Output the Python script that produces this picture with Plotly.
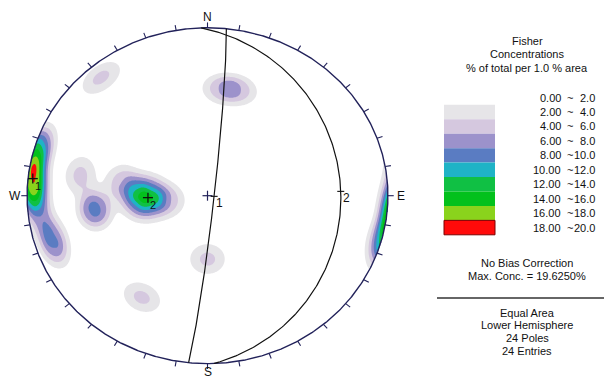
import numpy as np
import plotly.graph_objects as go

# ---------------- data ----------------
pole_trend = [273, 275, 277, 284, 288, 270, 263,
              274, 275, 263, 261, 263, 280,
              7, 15, 320,
              280, 262, 263,
              250, 254, 105,
              180, 211]
pole_plunge = [3, 4, 3, 3, 4, 5, 7,
               58, 64, 58, 64, 72, 50,
               36, 35, 9,
               29, 36, 38,
               10, 12, 1,
               59, 30]

plane_dipdir = [96, 88]
plane_dip = [87, 27]
plane_labels = ["1", "2"]

set_pole_trend = [276, 268]
set_pole_plunge = [3, 63]
set_labels = ["1", "2"]

legend_low = ["0.00", "2.00", "4.00", "6.00", "8.00", "10.00", "12.00", "14.00", "16.00", "18.00"]
legend_high = ["2.0", "4.0", "6.0", "8.0", "10.0", "12.0", "14.0", "16.0", "18.0", "20.0"]
band_colors = ["#ffffff", "#e6e5e8", "#d5c8df", "#9c92cb", "#5a7cc2",
               "#1fb3c6", "#10c044", "#03c11c", "#8ad31c", "#ff0a0a"]
contour_start, contour_end, contour_step = 2, 18, 2

info_top = ["Fisher", "Concentrations", "% of total per 1.0 % area"]
info_mid = ["No Bias Correction", "Max. Conc. = 19.6250%"]
info_bot = ["Equal Area", "Lower Hemisphere", "24 Poles", "24 Entries"]

FLAT_DEG = 2.0
SIGMA_DEG = 4.5
N = len(pole_trend)

# ---------------- geometry ----------------
W, H = 604, 376
ML, MR, MT, MB = 9, 198, 11, 4
XR = [-1.1, 1.1]
YR = [-1.05, 1.1]
PW = W - ML - MR
PH = H - MT - MB
SX = PW / (XR[1] - XR[0])
SY = PH / (YR[1] - YR[0])


def px(x):
    return (x - ML) / PW


def py(y):
    return (H - MB - y) / PH


def vec(tr, pl):
    tr = np.radians(np.asarray(tr, float))
    pl = np.radians(np.asarray(pl, float))
    return np.stack([np.cos(pl) * np.sin(tr), np.cos(pl) * np.cos(tr), np.sin(pl)], -1)


def project(v):
    v = np.atleast_2d(v)
    v = v * np.where(v[:, 2:3] < 0, -1, 1)
    pl = np.arcsin(np.clip(v[:, 2], -1, 1))
    tr = np.arctan2(v[:, 0], v[:, 1])
    r = np.sqrt(2) * np.sin((np.pi / 2 - pl) / 2)
    return r * np.sin(tr), r * np.cos(tr)


def great_circle(dd, dip, n=241):
    s = np.radians(dd - 90)
    d = np.radians(dd)
    dp = np.radians(dip)
    sv = np.array([np.sin(s), np.cos(s), 0.0])
    dv = np.array([np.cos(dp) * np.sin(d), np.cos(dp) * np.cos(d), np.sin(dp)])
    b = np.linspace(0, np.pi, n)
    v = np.outer(np.cos(b), sv) + np.outer(np.sin(b), dv)
    return project(v)


# ---------------- density ----------------
P = vec(pole_trend, pole_plunge)
gx = np.linspace(XR[0], XR[1], 441)
gy = np.linspace(YR[0], YR[1], 431)
X, Y = np.meshgrid(gx, gy)
R = np.hypot(X, Y)
inside = R <= 1.0
c = 2 * np.arcsin(np.clip(R / np.sqrt(2), 0, 1))
pl = np.pi / 2 - c
tr = np.arctan2(X, Y)
G = np.stack([np.cos(pl) * np.sin(tr), np.cos(pl) * np.cos(tr), np.sin(pl)], -1)
ang = np.degrees(np.arccos(np.clip(np.abs(G @ P.T), 0, 1)))
wgt = np.exp(-np.maximum(0, ang - FLAT_DEG) ** 2 / (2 * SIGMA_DEG ** 2))
dens = 100.0 / N * wgt.sum(-1)
dens[~inside] = 0.0

fig = go.Figure()
fig.add_trace(go.Contour(
    x=gx, y=gy, z=dens,
    contours=dict(start=contour_start, end=contour_end, size=contour_step,
                  coloring="fill", showlines=False),
    colorscale=[[k / 9, col] for k, col in enumerate(band_colors)],
    showscale=False, line=dict(width=0), hoverinfo="skip"))

NAVY = "#22225a"
th = np.linspace(0, 2 * np.pi, 721)
fig.add_trace(go.Scatter(x=np.sin(th), y=np.cos(th), mode="lines",
                         line=dict(color=NAVY, width=1.4), hoverinfo="skip"))

tx, ty = [], []
for az in range(0, 360, 10):
    a = np.radians(az)
    tx += [np.sin(a), 1.032 * np.sin(a), None]
    ty += [np.cos(a), 1.032 * np.cos(a), None]
fig.add_trace(go.Scatter(x=tx, y=ty, mode="lines", line=dict(color=NAVY, width=1.1),
                         hoverinfo="skip"))

for dd, dp in zip(plane_dipdir, plane_dip):
    gxp, gyp = great_circle(dd, dp)
    fig.add_trace(go.Scatter(x=gxp, y=gyp, mode="lines",
                             line=dict(color="#111111", width=1.2), hoverinfo="skip"))

cx = 5 / SX
cy = 5 / SY
fig.add_trace(go.Scatter(x=[-cx, cx, None, 0, 0], y=[0, 0, None, -cy, cy], mode="lines",
                         line=dict(color=NAVY, width=1.2), hoverinfo="skip"))

annotations = []
for dd, dp, lab in zip(plane_dipdir, plane_dip, plane_labels):
    mx, my = project(vec([dd], [dp]))
    mx, my = float(mx[0]), float(my[0])
    if dp < 89:
        fig.add_trace(go.Scatter(x=[mx - 3.5 / SX, mx + 3.5 / SX], y=[my, my], mode="lines",
                                 line=dict(color="#111111", width=1.1), hoverinfo="skip"))
    annotations.append(dict(x=mx, y=my, xref="x", yref="y", text=lab, showarrow=False,
                            xanchor="left", yanchor="middle", xshift=0, yshift=-7,
                            font=dict(family="Liberation Sans", size=12, color="#111")))

for t_, p_, lab in zip(set_pole_trend, set_pole_plunge, set_labels):
    sx, sy = project(vec([t_], [p_]))
    sx, sy = float(sx[0]), float(sy[0])
    fig.add_trace(go.Scatter(x=[sx - cx, sx + cx, None, sx, sx],
                             y=[sy, sy, None, sy - cy, sy + cy], mode="lines",
                             line=dict(color="#111111", width=1.3), hoverinfo="skip"))
    annotations.append(dict(x=sx, y=sy, xref="x", yref="y", text=lab, showarrow=False,
                            xanchor="left", yanchor="middle", xshift=0, yshift=-7,
                            font=dict(family="Liberation Sans", size=11, color="#111")))

card = [("N", 0, 1.065), ("S", 0, -1.05), ("W", -1.068, 0), ("E", 1.07, 0)]
for t, x, y in card:
    annotations.append(dict(x=x, y=y, xref="x", yref="y", text=t, showarrow=False,
                            xanchor="center", yanchor="middle",
                            font=dict(family="Liberation Sans", size=12, color="#111")))

FONT = dict(family="Liberation Sans", size=11, color="#111")
LX = 527
for i, t in enumerate(info_top):
    annotations.append(dict(x=px(LX), y=py(41 + 13.5 * i), xref="paper", yref="paper", text=t,
                            showarrow=False, xanchor="center", yanchor="middle", font=FONT))
for i, t in enumerate(info_mid):
    annotations.append(dict(x=px(LX), y=py(263 + 13 * i), xref="paper", yref="paper", text=t,
                            showarrow=False, xanchor="center", yanchor="middle", font=FONT))
for i, t in enumerate(info_bot):
    annotations.append(dict(x=px(LX), y=py(312.5 + 12.7 * i), xref="paper", yref="paper", text=t,
                            showarrow=False, xanchor="center", yanchor="middle", font=FONT))

shapes = []
for i, (lo, hi) in enumerate(zip(legend_low, legend_high)):
    yc = 97.6 + 14.44 * i
    annotations.append(dict(x=px(563), y=py(yc), xref="paper", yref="paper", text=lo,
                            showarrow=False, xanchor="right", yanchor="middle", font=FONT))
    annotations.append(dict(x=px(570), y=py(yc), xref="paper", yref="paper", text="~",
                            showarrow=False, xanchor="center", yanchor="middle", font=FONT))
    annotations.append(dict(x=px(597), y=py(yc), xref="paper", yref="paper", text=hi,
                            showarrow=False, xanchor="right", yanchor="middle", font=FONT))
    if i >= 1:
        y0 = 90.4 + 14.44 * i
        shapes.append(dict(type="rect", xref="paper", yref="paper",
                           x0=px(444), x1=px(495), y0=py(y0), y1=py(y0 + 14.44),
                           fillcolor=band_colors[i],
                           line=dict(width=1 if i == 9 else 0, color="#7a0000")))

shapes.append(dict(type="line", xref="paper", yref="paper", x0=px(437), x1=px(604),
                   y0=py(298), y1=py(298), line=dict(color="#333", width=1.5)))

fig.update_layout(
    width=W, height=H, margin=dict(l=ML, r=MR, t=MT, b=MB),
    paper_bgcolor="white", plot_bgcolor="white", showlegend=False,
    xaxis=dict(range=XR, visible=False, fixedrange=True),
    yaxis=dict(range=YR, visible=False, fixedrange=True),
    annotations=annotations, shapes=shapes)

fig.write_html("out.html", config={"displayModeBar": False},
               post_script="document.body.style.margin='0px';document.body.style.overflow='hidden';")
